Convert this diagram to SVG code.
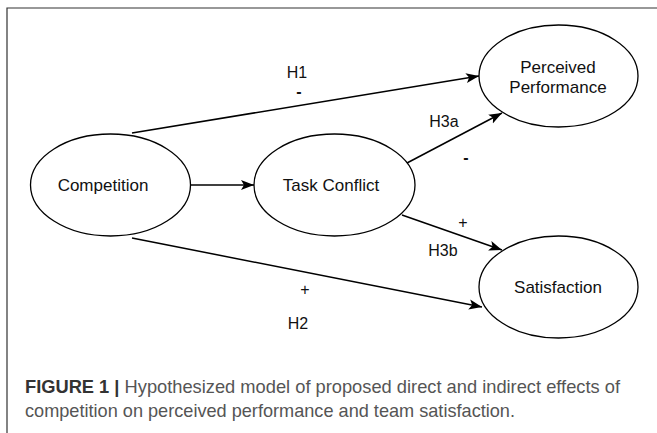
<svg xmlns="http://www.w3.org/2000/svg" width="657" height="433" viewBox="0 0 657 433">
<style>
.node{fill:#fff;stroke:#000;stroke-width:1.3}
.nt{font-family:"Liberation Sans",Arial,sans-serif;font-size:17px;fill:#111;text-anchor:middle}
.lbl{font-family:"Liberation Sans",Arial,sans-serif;font-size:16px;fill:#111;text-anchor:middle}
.edge{fill:none;stroke:#000;stroke-width:1.5}
.cap{font-family:"Liberation Sans",Arial,sans-serif;font-size:18.5px;fill:#555}
.capb{font-weight:bold;fill:#333}
</style>
<defs>
<marker id="arr" markerUnits="userSpaceOnUse" markerWidth="14" markerHeight="12" viewBox="0 0 14 12" refX="13" refY="6" orient="auto">
<path d="M0,1 L13,6 L0,11 L3,6 z" fill="#000"/>
</marker>
</defs>
<rect width="657" height="433" fill="#fff"/>
<path d="M7,433 V8 H657" fill="none" stroke="#333" stroke-width="1.2"/>
<g id="connectors">
<line class="edge" x1="132" y1="133" x2="479" y2="76" marker-end="url(#arr)"/>
<line class="edge" x1="191" y1="185" x2="254" y2="185" marker-end="url(#arr)"/>
<line class="edge" x1="407" y1="163" x2="502" y2="113" marker-end="url(#arr)"/>
<line class="edge" x1="402" y1="215" x2="502" y2="250" marker-end="url(#arr)"/>
<line class="edge" x1="132" y1="238" x2="482" y2="307" marker-end="url(#arr)"/>
</g>
<g id="labels">
<text class="lbl" x="297" y="78">H1</text>
<text class="lbl" x="299" y="97" style="font-weight:bold">-</text>
<text class="lbl" x="444" y="127">H3a</text>
<text class="lbl" x="466" y="163" style="font-weight:bold">-</text>
<text class="lbl" x="463" y="228">+</text>
<text class="lbl" x="443" y="256">H3b</text>
<text class="lbl" x="305" y="295">+</text>
<text class="lbl" x="298" y="329">H2</text>
</g>
<g id="competition">
<ellipse class="node" cx="110.5" cy="185" rx="80" ry="51"/>
<text class="nt" x="103" y="191">Competition</text>
</g>
<g id="task-conflict">
<ellipse class="node" cx="334.5" cy="185" rx="80.5" ry="51"/>
<text class="nt" x="331" y="191">Task Conflict</text>
</g>
<g id="perceived-performance">
<ellipse class="node" cx="558.5" cy="76" rx="79.5" ry="51"/>
<text class="nt" x="558" y="73">Perceived</text>
<text class="nt" x="558" y="93">Performance</text>
</g>
<g id="satisfaction">
<ellipse class="node" cx="558.5" cy="287" rx="79.5" ry="51"/>
<text class="nt" x="558" y="293">Satisfaction</text>
</g>
<g id="caption">
<text class="cap" x="25" y="393" textLength="595" lengthAdjust="spacingAndGlyphs"><tspan class="capb">FIGURE 1 | </tspan>Hypothesized model of proposed direct and indirect effects of</text>
<text class="cap" x="25" y="417" textLength="490" lengthAdjust="spacingAndGlyphs">competition on perceived performance and team satisfaction.</text>
</g>
</svg>
